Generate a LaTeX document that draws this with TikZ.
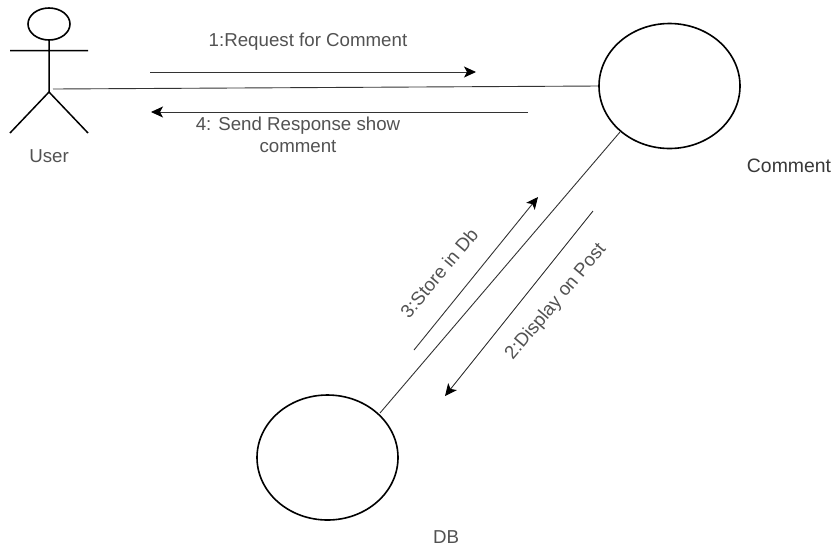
\documentclass[tikz,border=0pt]{standalone}
\usepackage{fontspec}
\setmainfont{Liberation Sans}
\usetikzlibrary{arrows.meta,shapes.geometric}
\tikzset{
 ln/.style={draw=black!80,line width=0.9pt},
 msg/.style={ln,-{Stealth[length=12pt,width=11pt,inset=3pt,color=black]}},
 circ/.style={ellipse,draw=black,line width=1.6pt,inner sep=0pt},
 lbl/.style={font=\fontsize{18.7pt}{22pt}\selectfont,text=black!68,inner sep=0pt,align=center}
}
\begin{document}
\begin{tikzpicture}[x=1pt,y=-1pt]
\useasboundingbox (0,0) rectangle (837,550);
% actor
\node[circ,minimum width=42pt,minimum height=32pt] (head) at (49,24) {};
\coordinate (hip) at (49,92);
\coordinate (la) at (10,50.5);
\coordinate (ra) at (88,50.5);
\coordinate (ll) at (10,133);
\coordinate (rl) at (88,133);
\draw[line width=1.5pt] (head.south) -- (hip) (la) -- (ra) (hip) -- (ll) (hip) -- (rl);
\node[lbl] (user) at (49,156) {User};
% circles
\node[circ,minimum width=141pt,minimum height=125pt] (comment) at (669.5,86) {};
\node[circ,minimum width=141pt,minimum height=125pt] (db) at (327.5,457.5) {};
\node[lbl,font=\fontsize{19.4pt}{22pt}\selectfont,text=black!78] (commentl) at (789,165.5) {Comment};
\node[lbl] (dbl) at (446,537) {DB};
% links
\coordinate (ua) at (53,89);
\draw[ln] (ua) -- (comment.west);
\coordinate (dbe) at (380,413);
\coordinate (ce) at (620,132);
\draw[ln] (dbe) -- (ce);
% messages
\coordinate (m1a) at (150,72); \coordinate (m1b) at (476,72);
\draw[msg] (m1a) -- (m1b);
\node[lbl] (m1) at (308,42) {1:Request for Comment};
\coordinate (m4a) at (528,112); \coordinate (m4b) at (151,112);
\draw[msg] (m4a) -- (m4b);
\node[lbl] (m4) at (298,135) {4: Send Response show\\comment};
\coordinate (m3a) at (414,350); \coordinate (m3b) at (538,197);
\draw[msg] (m3a) -- (m3b);
\node[lbl,rotate=50] (m3) at (439,273) {3:Store in Db};
\coordinate (m2a) at (593,211); \coordinate (m2b) at (445,396);
\draw[msg] (m2a) -- (m2b);
\node[lbl,rotate=50] (m2) at (556,302) {2:Display on Post};
\end{tikzpicture}
\end{document}
